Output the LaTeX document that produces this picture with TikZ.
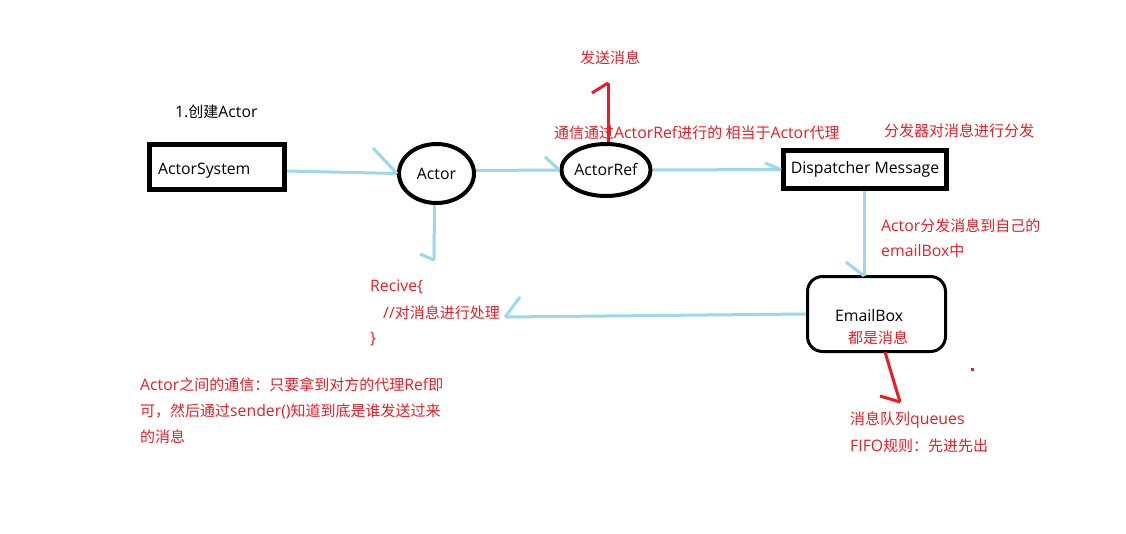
\documentclass[tikz,border=0pt]{standalone}
\usepackage{fontspec}
\setmainfont{Open Sans}
\newfontfamily\zhfont{Noto Sans CJK SC}
\newcommand\zh[1]{{\zhfont\fontsize{15}{17}\selectfont #1}}
\usetikzlibrary{shapes.geometric}
\definecolor{lblue}{RGB}{153,217,234}
\definecolor{pred}{RGB}{237,28,36}
\begin{document}
\begin{tikzpicture}[x=1pt,y=-1pt,
  txt/.style={anchor=west, inner sep=0pt, font=\fontsize{15.8}{17}\selectfont},
  rtxt/.style={txt, text=pred},
  bline/.style={draw=lblue, line width=3pt},
  rline/.style={draw=pred, line width=3pt},
  sqbox/.style={draw=black, line width=5pt, inner sep=0pt, font=\fontsize{15.8}{17}\selectfont},
  ovalnode/.style={ellipse, draw=black, line width=4pt, inner sep=0pt, font=\fontsize{15.8}{17}\selectfont},
  roundbox/.style={draw=black, line width=3pt, rounded corners=15pt, inner sep=0pt}
]
\useasboundingbox[fill=white] (0,0) rectangle (1126,533);

% main nodes
\node[sqbox, minimum width=135pt, minimum height=45pt, text width=118pt, inner xsep=8.5pt, align=left, text height=16pt, text depth=2pt] (asys) at (217,167) {ActorSystem};
\node[ovalnode, minimum width=75pt, minimum height=59pt] (actor) at (436.5,173.5) {Actor};
\node[ovalnode, minimum width=86pt, minimum height=52pt] (aref) at (606,170) {ActorRef};
\node[sqbox, minimum width=163pt, minimum height=38pt] (disp) at (865,169.5) {Dispatcher Message};
\node[roundbox, minimum width=138pt, minimum height=75pt] (email) at (876.5,314) {};
\node[txt] (emailtxt) at (835,316) {EmailBox};

% texts
\node[txt] (t1) at (175,112) {1.\zh{创建}Actor};
\node[rtxt] (tsend) at (580,58) {\zh{发送消息}};
\node[rtxt] (tref) at (554,133) {\zh{通信通过}ActorRef\zh{进行的 相当于}Actor\zh{代理}};
\node[rtxt] (tdisp) at (884,131) {\zh{分发器对消息进行分发}};
\node[rtxt] (tdist1) at (881,226) {Actor\zh{分发消息到自己的}};
\node[rtxt] (tdist2) at (881,251) {emailBox\zh{中}};
\node[rtxt] (recv1) at (370,287) {Recive\{};
\node[rtxt] (recv2) at (383,313) {//\zh{对消息进行处理}};
\node[rtxt] (recv3) at (370,339) {\}};
\node[rtxt] (tall) at (848,338) {\zh{都是消息}};
\node[rtxt] (tq1) at (850,420) {\zh{消息队列}queues};
\node[rtxt] (tq2) at (850,446) {FIFO\zh{规则：先进先出}};
\node[rtxt] (tb1) at (140,385) {Actor\zh{之间的通信：只要拿到对方的代理}Ref\zh{即}};
\node[rtxt] (tb2) at (140,411) {\zh{可，然后通过}sender()\zh{知道到底是谁发送过来}};
\node[rtxt] (tb3) at (140,437) {\zh{的消息}};

% blue connectors
\coordinate (b1) at (373,148);
\draw[bline] ([yshift=-4pt]asys.east) -- (actor.west);
\draw[bline] (b1) -- (actor.west);

\coordinate (b2) at (545,157);
\draw[bline] ([yshift=3pt]actor.east) -- (aref.west);
\draw[bline] (b2) -- (aref.west);

\coordinate (b3) at (765,163);
\draw[bline] (aref.east) -- (disp.west);
\draw[bline] (b3) -- (disp.west);

\coordinate (dend) at (864,276);
\coordinate (b4) at (846,262);
\draw[bline] ([xshift=-1pt]disp.south) -- (dend);
\draw[bline] (b4) -- (dend);

\coordinate (aend) at (434,260);
\coordinate (b5) at (420,254);
\draw[bline] ([xshift=-2pt]actor.south) -- (aend);
\draw[bline] (b5) -- (aend);

\coordinate (rend) at ([xshift=5pt,yshift=-4pt]recv2.east);
\coordinate (b6) at (520,297);
\draw[bline] (email.west) -- (rend);
\draw[bline] (b6) -- (rend);

% red connectors
\coordinate (sendtop) at (608,83);
\coordinate (b7) at (592,93);
\draw[rline] ([xshift=2pt]aref.north) -- (sendtop);
\draw[rline] (b7) -- (sendtop);

\coordinate (qend) at (900,402);
\coordinate (b8) at (880,396);
\draw[rline] (885,352) -- (qend);
\draw[rline] (b8) -- (qend);

\fill[pred] (971,368) rectangle (974,371);
\end{tikzpicture}
\end{document}
